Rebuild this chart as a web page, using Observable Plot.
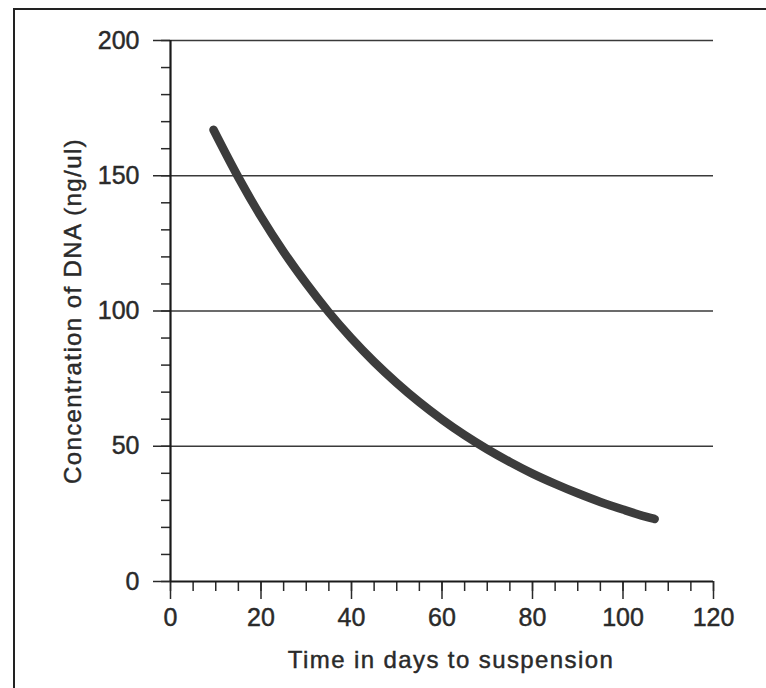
<!DOCTYPE html>
<html>
<head>
<meta charset="utf-8">
<script src="https://cdn.jsdelivr.net/npm/d3@7"></script>
<script src="https://cdn.jsdelivr.net/npm/@observablehq/plot@0.6"></script>
<style>
  html, body { margin: 0; padding: 0; background: #fff; overflow: hidden; }
  #wrap { position: relative; width: 766px; height: 688px; overflow: hidden; }
  #frame { position: absolute; left: 13px; top: 8px; width: 800px; height: 720px;
           border-left: 2px solid #222; border-top: 2px solid #222; box-sizing: border-box; }
  #chart { position: absolute; left: 0; top: 0; }
  #chart text { stroke: #2a2a2a; stroke-width: 0.45px; }
  .ttl { letter-spacing: 1.4px; }
</style>
</head>
<body>
<div id="wrap"><div id="frame"></div><div id="chart"></div></div>
<script>
// Data
const days = [9.5, 15, 20, 25, 30, 35, 40, 45, 50, 55, 60, 65, 70, 75, 80, 85, 90, 95, 100, 105, 107];
const conc = [167, 149.4, 134.9, 121.9, 110.2, 99.5, 89.9, 81.2, 73.4, 66.3, 59.9, 54.1, 48.9, 44.2, 39.9, 36.1, 32.6, 29.4, 26.6, 24.0, 23.1];

const xMajor = [0, 20, 40, 60, 80, 100, 120];
const xMinor = d3.range(0, 121, 5);
const yMajor = [0, 50, 100, 150, 200];
const yMinor = d3.range(0, 201, 10);
const gridValues = [50, 100, 150, 200];

const xTitle = "Time in days to suspension";
const yTitle = "Concentration of DNA (ng/ul)";

const data = days.map((d, i) => ({day: d, conc: conc[i]}));

const ink = "#2a2a2a";

const chart = Plot.plot({
  width: 766,
  height: 688,
  marginLeft: 170,
  marginRight: 53,
  marginTop: 40,
  marginBottom: 107,
  style: {fontFamily: "'Liberation Sans', Arial, sans-serif", fontSize: "25px", color: ink, background: "transparent"},
  x: {domain: [0, 120]},
  y: {domain: [0, 200]},
  marks: [
    Plot.gridY(gridValues, {stroke: "#3a3a3a", strokeOpacity: 1, strokeWidth: 1.3}),
    // minor ticks
    Plot.axisX({ticks: xMinor, tickSize: 10, tickFormat: () => "", label: null, stroke: ink, strokeWidth: 1.5}),
    Plot.axisY({ticks: yMinor, tickSize: 9, tickFormat: () => "", label: null, stroke: ink, strokeWidth: 1.5}),
    // major ticks + labels
    Plot.axisX({ticks: xMajor, tickSize: 18, tickPadding: 9, fontSize: 25, stroke: ink, strokeWidth: 1.5, label: null, fill: ink}),
    Plot.axisY({ticks: yMajor, tickSize: 17, tickPadding: 14, fontSize: 25, stroke: ink, strokeWidth: 1.5, label: null, fill: ink}),
    // axis titles
    Plot.axisX({ticks: [], tickSize: 0, label: xTitle, labelAnchor: "center", labelOffset: 86, labelArrow: "none", fontSize: 24, fill: ink}),
    Plot.axisY({ticks: [], tickSize: 0, label: yTitle, labelAnchor: "center", labelOffset: 107, labelArrow: "none", fontSize: 24, fill: ink}),
    // axis lines
    Plot.ruleX([0], {y1: 0, y2: 200, stroke: "#1a1a1a", strokeWidth: 2.2}),
    Plot.ruleY([0], {x1: 0, x2: 120, stroke: "#1a1a1a", strokeWidth: 2.2}),
    // curve
    Plot.line(data, {x: "day", y: "conc", curve: "monotone-x", stroke: "#3c3c3c", strokeWidth: 8.5, strokeLinecap: "round", strokeLinejoin: "round"})
  ]
});

document.getElementById("chart").appendChild(chart);

// letter-spacing for the axis titles; nudge the x title right as in the reference
d3.select(chart).selectAll("text").each(function() {
  const t = this.textContent;
  if (t === xTitle || t === yTitle) d3.select(this).attr("class", "ttl");
  if (t === xTitle) d3.select(this).style("translate", "9px 0px");
});
</script>
</body>
</html>
